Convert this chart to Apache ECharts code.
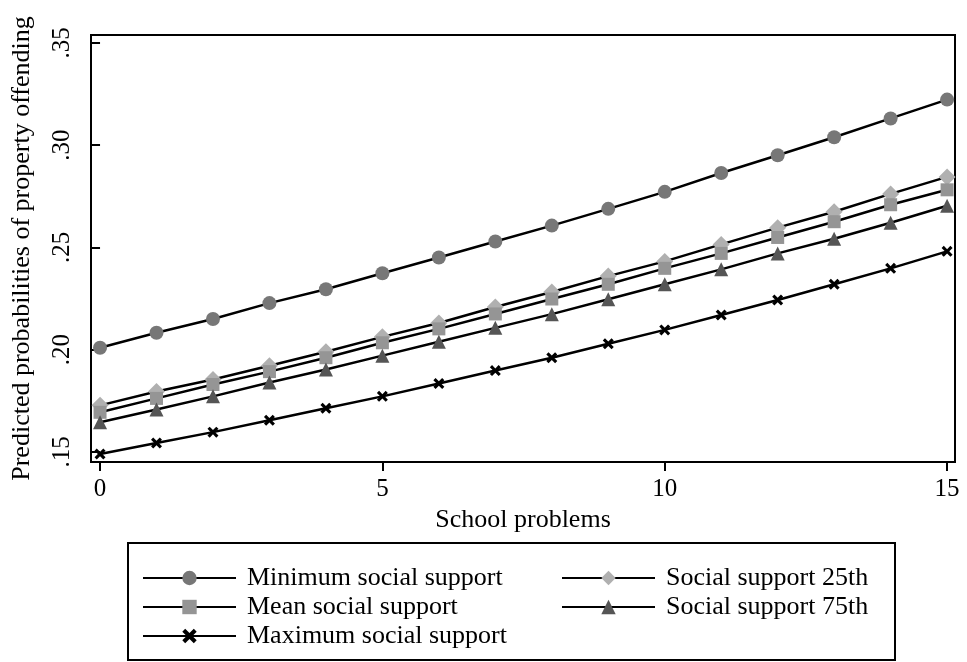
<!DOCTYPE html>
<html>
<head>
<meta charset="utf-8">
<script src="https://cdn.jsdelivr.net/npm/echarts@6/dist/echarts.min.js"></script>
<style>
  html, body { margin: 0; padding: 0; background: #fff; }
  #chart { width: 967px; height: 662px; }
</style>
</head>
<body>
<div id="chart"></div>
<script>
// school problems 0..15
const schoolProblems = [0, 1, 2, 3, 4, 5, 6, 7, 8, 9, 10, 11, 12, 13, 14, 15];

const minSupport = [0.201, 0.2083, 0.215, 0.2228, 0.2296, 0.2374, 0.2451, 0.2529, 0.2607, 0.2689, 0.2772, 0.2864, 0.2951, 0.3039, 0.3131, 0.3223];
const support25 = [0.1728, 0.1796, 0.1854, 0.1922, 0.199, 0.2063, 0.2131, 0.2209, 0.2282, 0.236, 0.2432, 0.2515, 0.2597, 0.2675, 0.2762, 0.2845];
const meanSupport = [0.1694, 0.1762, 0.183, 0.1893, 0.1961, 0.2034, 0.2102, 0.2175, 0.2248, 0.232, 0.2398, 0.2471, 0.2549, 0.2626, 0.2709, 0.2782];
const support75 = [0.1645, 0.1708, 0.1772, 0.184, 0.1903, 0.1971, 0.2039, 0.2107, 0.2174, 0.2247, 0.232, 0.2393, 0.2471, 0.2543, 0.2621, 0.2704];
const maxSupport = [0.149, 0.1544, 0.1597, 0.1655, 0.1714, 0.1772, 0.1835, 0.1898, 0.1961, 0.2029, 0.2097, 0.217, 0.2243, 0.232, 0.2398, 0.2481];

const xTicks = [0, 5, 10, 15];
const yTicks = [0.15, 0.20, 0.25, 0.30, 0.35];

const font = 'Liberation Serif';
const crossPath = 'path://M0,2 L2,0 L5,3 L8,0 L10,2 L7,5 L10,8 L8,10 L5,7 L2,10 L0,8 L3,5 Z';

const pairs = arr => arr.map((v, i) => [schoolProblems[i], v]);

const mkSeries = (name, data, symbol, size, color) => ({
    name: name,
    type: 'line',
    data: pairs(data),
    symbol: symbol,
    symbolSize: size,
    showAllSymbol: true,
    lineStyle: { color: '#000', width: 2.5 },
    itemStyle: { color: color, borderWidth: 0 },
    z: 2
});

const legendText = { fontFamily: font, fontSize: 26, color: '#000', padding: [0, 0, 0, 6] };

const myChart = echarts.init(document.getElementById('chart'));
myChart.setOption({
    animation: false,
    textStyle: { fontFamily: font },
    grid: {
        left: 91,
        right: 12,
        top: 35,
        bottom: 200,
        show: true,
        borderColor: '#000',
        borderWidth: 2,
        backgroundColor: '#fff'
    },
    xAxis: {
        type: 'value',
        min: -0.16,
        max: 15.14,
        name: 'School problems',
        nameLocation: 'middle',
        nameGap: 44,
        nameTextStyle: { fontFamily: font, fontSize: 26, color: '#000' },
        axisLine: { show: false },
        splitLine: { show: false },
        axisTick: { show: true, customValues: xTicks, length: 9, lineStyle: { color: '#000', width: 2 } },
        axisLabel: { customValues: xTicks, fontFamily: font, fontSize: 25, color: '#000', margin: 15 }
    },
    yAxis: {
        type: 'value',
        min: 0.1451,
        max: 0.3539,
        name: 'Predicted probabilities of property offending',
        nameLocation: 'middle',
        nameRotate: 90,
        nameGap: 56,
        nameTextStyle: { fontFamily: font, fontSize: 26, color: '#000' },
        axisLine: { show: false },
        splitLine: { show: false },
        axisTick: { show: true, customValues: yTicks, length: 9, lineStyle: { color: '#000', width: 2 } },
        axisLabel: {
            customValues: yTicks,
            rotate: 90,
            fontFamily: font,
            fontSize: 25,
            color: '#000',
            margin: 16,
            formatter: v => v.toFixed(2).replace(/^0/, '')
        }
    },
    legend: [{
        left: 137,
        top: 560,
        orient: 'vertical',
        itemWidth: 93,
        itemHeight: 18,
        itemGap: 3,
        data: ['Minimum social support', 'Mean social support', 'Maximum social support'],
        textStyle: legendText
    }, {
        left: 556,
        top: 560,
        orient: 'vertical',
        itemWidth: 93,
        itemHeight: 18,
        itemGap: 3,
        data: ['Social support 25th', 'Social support 75th'],
        textStyle: legendText
    }],
    graphic: [{
        type: 'rect',
        shape: { x: 128, y: 543, width: 767, height: 117 },
        style: { fill: 'none', stroke: '#000', lineWidth: 2 },
        silent: true
    }],
    series: [
        mkSeries('Minimum social support', minSupport, 'circle', 14, '#777777'),
        mkSeries('Social support 25th', support25, 'diamond', 17, '#b0b0b0'),
        mkSeries('Mean social support', meanSupport, 'rect', 13, '#959595'),
        mkSeries('Social support 75th', support75, 'triangle', 14, '#555555'),
        mkSeries('Maximum social support', maxSupport, crossPath, 11, '#000000')
    ]
});
</script>
</body>
</html>
